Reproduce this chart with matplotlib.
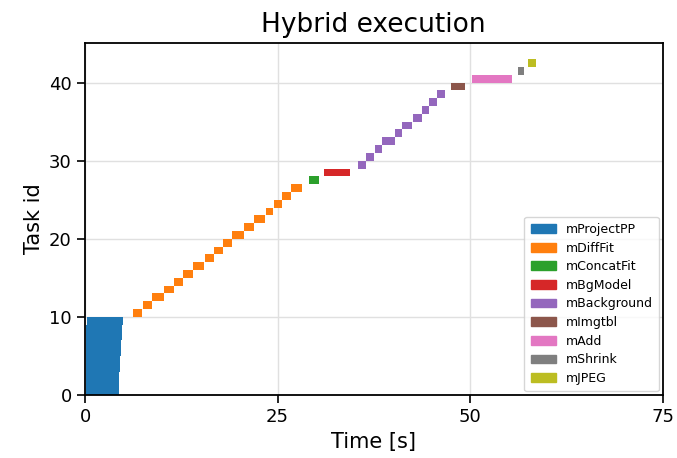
import matplotlib
matplotlib.use("Agg")
import matplotlib.pyplot as plt

# Task types (legend order)
task_types = ["mProjectPP", "mDiffFit", "mConcatFit", "mBgModel", "mBackground",
              "mImgtbl", "mAdd", "mShrink", "mJPEG"]
colors = ["#1f77b4", "#ff7f0e", "#2ca02c", "#d62728", "#9467bd",
          "#8c564b", "#e377c2", "#7f7f7f", "#bcbd22"]

# Per-task type index, start and end time [s]
task_type_idx = ([0] * 10 + [1] * 17 + [2] + [3] + [4] * 10 + [5] + [6] + [7] + [8])
task_start = [0.10, 0.11, 0.12, 0.13, 0.14, 0.15, 0.16, 0.17, 0.18, 0.20,
              6.27, 7.48, 8.73, 10.30, 11.55, 12.70, 13.99, 15.56, 16.77, 17.94,
              19.10, 20.67, 22.00, 23.44, 24.50, 25.60, 26.77,
              29.06,
              31.00,
              35.46, 36.55, 37.63, 38.62, 40.26, 41.22, 42.56, 43.77, 44.72, 45.71,
              47.49,
              50.20,
              56.20,
              57.56]
task_end = [4.35, 4.40, 4.45, 4.50, 4.55, 4.62, 4.68, 4.74, 4.80, 4.88,
            7.44, 8.69, 10.25, 11.50, 12.67, 13.96, 15.50, 16.73, 17.90, 19.04,
            20.60, 21.96, 23.40, 24.47, 25.55, 26.70, 28.20,
            30.36,
            34.47,
            36.50, 37.58, 38.57, 40.22, 41.17, 42.50, 43.73, 44.66, 45.67, 46.80,
            49.40,
            55.50,
            56.96,
            58.60]

xticks = [0, 25, 50, 75]
yticks = [0, 10, 20, 30, 40]

fig = plt.figure(figsize=(6.77, 4.58), dpi=100)
ax = fig.add_axes([0.1256, 0.1376, 0.853, 0.769])

for tid, (ti, s, e) in enumerate(zip(task_type_idx, task_start, task_end)):
    ax.barh(tid, e - s, left=s, height=1.0, align="edge",
            color=colors[ti], edgecolor="none")

handles = [plt.Rectangle((0, 0), 1, 1, color=c) for c in colors]
ax.legend(handles, task_types, loc="lower right", fontsize=9,
          handlelength=2.0, handleheight=0.7, labelspacing=0.45,
          borderpad=0.5, bbox_to_anchor=(1.0, 0.0), borderaxespad=0.3)

ax.set_xlim(0, 75)
ax.set_ylim(0, 45.1)
ax.set_xticks(xticks)
ax.set_yticks(yticks)
ax.grid(True, color="#e0e0e0", linewidth=1.0)
ax.set_axisbelow(True)
ax.tick_params(labelsize=13, length=6, width=1.2)
for sp in ax.spines.values():
    sp.set_linewidth(1.3)
ax.set_xlabel("Time [s]", fontsize=15)
ax.set_ylabel("Task id", fontsize=15)
ax.set_title("Hybrid execution", fontsize=19, pad=8)

fig.savefig("out.png", dpi=100)
